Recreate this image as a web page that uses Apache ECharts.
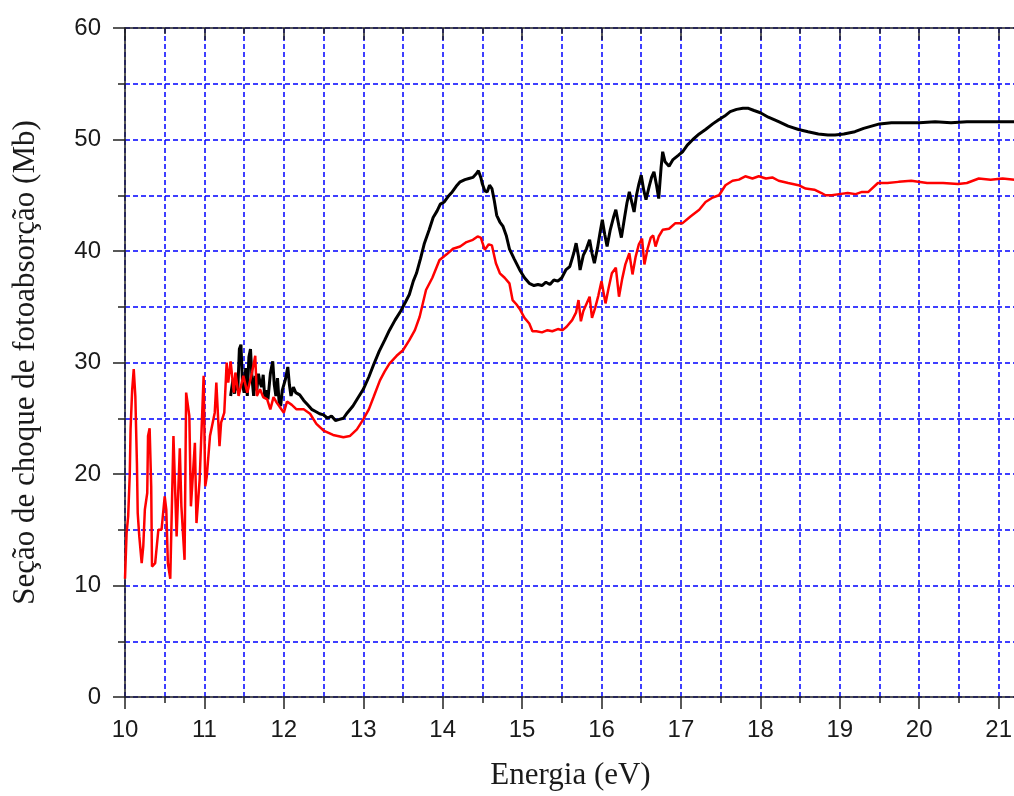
<!DOCTYPE html>
<html>
<head>
<meta charset="utf-8">
<script src="https://cdn.jsdelivr.net/npm/echarts@6/dist/echarts.min.js"></script>
<style>html,body{margin:0;padding:0;background:#fff;overflow:hidden;width:1014px;height:796px;}#c{width:1032px;height:796px;}</style>
</head>
<body>
<div id="c"></div>
<script>
// Tick labels
const xTickLabels = ['10','11','12','13','14','15','16','17','18','19','20','21'];
const yTickLabels = ['0','10','20','30','40','50','60'];

// Black series (energy in eV, cross section in Mb)
const blackE = [11.33,11.36,11.38,11.40,11.42,11.44,11.46,11.48,11.50,11.52,11.54,11.56,11.58,11.60,11.62,11.64,11.66,11.68,11.70,11.72,11.74,11.76,11.78,11.80,11.83,11.86,11.88,11.90,11.92,11.94,11.96,11.98,12.02,12.05,12.07,12.09,12.12,12.15,12.20,12.25,12.30,12.35,12.40,12.45,12.50,12.55,12.60,12.65,12.70,12.75,12.80,12.87,12.93,13.00,13.07,13.13,13.20,13.27,13.33,13.40,13.47,13.53,13.58,13.63,13.67,13.72,13.77,13.83,13.88,13.93,13.97,14.02,14.07,14.12,14.17,14.22,14.28,14.33,14.38,14.42,14.45,14.48,14.50,14.53,14.56,14.59,14.62,14.65,14.68,14.72,14.76,14.80,14.84,14.90,14.97,15.03,15.09,15.15,15.20,15.25,15.30,15.35,15.40,15.45,15.50,15.55,15.60,15.65,15.68,15.71,15.73,15.77,15.81,15.85,15.88,15.91,15.95,15.98,16.01,16.04,16.07,16.11,16.15,16.18,16.22,16.25,16.29,16.32,16.35,16.38,16.41,16.44,16.47,16.50,16.53,16.56,16.60,16.63,16.66,16.69,16.72,16.75,16.77,16.80,16.85,16.90,16.97,17.02,17.08,17.15,17.23,17.31,17.40,17.48,17.55,17.62,17.70,17.78,17.85,17.92,18.00,18.10,18.23,18.35,18.48,18.60,18.73,18.85,18.94,19.05,19.19,19.30,19.40,19.50,19.65,19.80,20.00,20.20,20.40,20.60,20.80,21.00,21.20];
const blackV = [27.0,28.5,27.2,29.0,27.5,31.2,31.6,28.0,27.3,29.5,27.0,30.5,31.2,28.5,27.0,28.8,27.5,29.0,28.2,27.8,28.9,26.8,27.5,26.7,29.0,30.1,28.0,27.0,28.6,26.5,26.1,27.5,28.5,29.6,28.0,27.0,27.8,27.3,27.1,26.6,26.2,25.8,25.6,25.4,25.3,25.0,25.2,24.8,24.9,25.0,25.5,26.1,26.8,27.6,28.7,29.8,31.0,32.0,32.9,33.8,34.6,35.4,36.1,37.3,38.0,39.3,40.7,41.9,43.0,43.6,44.2,44.4,44.9,45.3,45.8,46.2,46.4,46.5,46.6,46.9,47.2,46.6,46.0,45.4,45.3,45.9,45.6,44.5,43.2,42.6,42.2,41.4,40.2,39.3,38.3,37.6,37.1,36.9,37.0,36.9,37.2,37.0,37.4,37.3,37.6,38.3,38.6,39.8,40.7,39.5,38.3,39.6,40.2,41.0,39.8,38.9,40.3,41.6,42.8,41.5,40.4,41.9,43.0,43.7,42.2,41.2,43.0,44.3,45.3,44.4,43.5,45.0,46.0,46.8,45.5,44.6,45.8,46.6,47.1,46.0,44.7,47.5,48.9,48.0,47.6,48.2,48.6,48.9,49.5,50.0,50.5,50.9,51.4,51.8,52.1,52.5,52.7,52.8,52.8,52.6,52.4,52.0,51.6,51.2,50.9,50.7,50.5,50.4,50.4,50.5,50.7,51.0,51.2,51.4,51.5,51.5,51.5,51.6,51.5,51.6,51.6,51.6,51.6];

// Red series
const redE = [10.00,10.02,10.04,10.06,10.07,10.09,10.11,10.13,10.15,10.16,10.18,10.21,10.23,10.25,10.28,10.29,10.31,10.33,10.34,10.38,10.42,10.46,10.50,10.52,10.54,10.57,10.61,10.65,10.69,10.71,10.75,10.77,10.81,10.83,10.88,10.90,10.94,10.99,11.01,11.03,11.07,11.13,11.15,11.19,11.21,11.25,11.28,11.30,11.33,11.37,11.39,11.43,11.49,11.54,11.60,11.64,11.66,11.70,11.74,11.79,11.83,11.87,11.91,11.96,12.00,12.04,12.10,12.16,12.25,12.33,12.41,12.50,12.62,12.75,12.83,12.92,13.00,13.07,13.13,13.21,13.27,13.33,13.42,13.50,13.58,13.65,13.71,13.79,13.87,13.96,14.05,14.13,14.22,14.30,14.38,14.44,14.48,14.53,14.58,14.62,14.67,14.72,14.78,14.84,14.88,14.93,14.97,15.03,15.09,15.13,15.18,15.25,15.32,15.38,15.45,15.51,15.56,15.63,15.68,15.71,15.74,15.77,15.80,15.85,15.88,15.92,15.96,16.00,16.05,16.09,16.13,16.18,16.22,16.26,16.30,16.35,16.39,16.43,16.47,16.51,16.54,16.58,16.62,16.65,16.68,16.72,16.77,16.85,16.93,17.02,17.12,17.23,17.31,17.40,17.48,17.56,17.65,17.73,17.81,17.90,17.98,18.07,18.15,18.23,18.35,18.48,18.57,18.68,18.77,18.82,18.90,18.99,19.10,19.20,19.28,19.36,19.48,19.60,19.74,19.90,20.10,20.30,20.49,20.60,20.75,20.90,21.05,21.20];
const redV = [10.6,14.7,16.2,20.0,24.0,27.5,29.4,27.0,21.0,16.5,14.4,12.0,13.5,16.8,18.3,23.4,24.1,18.9,11.7,12.0,15.0,15.0,18.0,16.8,12.0,10.6,23.4,14.4,22.3,17.1,12.3,27.3,25.2,17.1,22.8,15.6,19.5,28.8,18.9,19.8,23.4,25.5,28.2,22.5,24.6,25.5,30.0,28.2,30.1,27.3,29.1,27.0,28.8,27.3,29.1,30.6,27.0,27.6,26.9,26.7,25.8,26.9,26.4,25.9,25.5,26.5,26.2,25.8,25.8,25.4,24.5,23.9,23.5,23.3,23.4,24.0,24.9,25.8,26.9,28.4,29.2,29.9,30.6,31.1,32.0,32.9,34.1,36.5,37.6,39.2,39.7,40.2,40.4,40.8,41.0,41.3,41.2,40.1,40.6,40.5,38.9,38.0,37.6,37.1,35.6,35.2,34.8,34.0,33.5,32.8,32.8,32.7,32.9,32.8,33.0,32.9,33.2,33.8,34.5,35.6,33.7,34.6,35.1,35.9,34.0,34.9,36.0,37.3,35.3,36.7,38.0,38.5,35.9,37.5,38.8,39.8,37.9,39.5,40.6,41.1,38.8,40.2,41.2,41.4,40.4,41.3,41.9,42.0,42.5,42.5,43.1,43.7,44.4,44.8,45.0,45.9,46.3,46.4,46.7,46.5,46.7,46.5,46.6,46.3,46.1,45.9,45.6,45.5,45.2,45.0,45.0,45.1,45.2,45.1,45.3,45.3,46.1,46.1,46.2,46.3,46.1,46.1,46.0,46.1,46.5,46.4,46.5,46.4];

const toPairs = (xs, ys) => xs.map((x, i) => [x, ys[i]]);

const gridDash = { color: '#0000ff', width: 1.5, type: [5, 3] };
const tickFont = { fontFamily: 'Liberation Sans', fontSize: 24, color: '#1a1a1a' };
const nameFont = { fontFamily: 'Liberation Serif', fontSize: 31, color: '#1a1a1a' };

// The plotted axis runs a little past the visible window edge, as in the reference
const X_MIN = 10, X_MAX = 21.42;

const chart = echarts.init(document.getElementById('c'), null, { renderer: 'canvas' });
chart.setOption({
  animation: false,
  backgroundColor: '#ffffff',
  grid: { left: 125, right: 0, top: 28, bottom: 98, containLabel: false },
  xAxis: [
    {
      type: 'value', position: 'bottom', min: X_MIN, max: X_MAX, interval: 1,
      name: 'Energia (eV)', nameLocation: 'middle', nameGap: 63,
      nameTextStyle: Object.assign({ padding: [0, 16, 0, 0] }, nameFont),
      axisLine: { show: true, onZero: false, lineStyle: { color: '#222', width: 1.5 } },
      axisTick: { show: true, inside: false, length: 12, lineStyle: { color: '#222', width: 1.5 } },
      minorTick: { show: true, splitNumber: 2, length: 6, lineStyle: { color: '#222', width: 1.5 } },
      axisLabel: Object.assign({ margin: 21, showMaxLabel: false,
        formatter: v => { const i = Math.round(v) - 10; return (Math.abs(v - Math.round(v)) < 1e-6 && xTickLabels[i] !== undefined) ? xTickLabels[i] : ''; } }, tickFont),
      splitLine: { show: true, lineStyle: gridDash },
      minorSplitLine: { show: true, lineStyle: gridDash }
    },
    {
      type: 'value', position: 'top', min: X_MIN, max: X_MAX, interval: 1,
      axisLine: { show: true, onZero: false, lineStyle: { color: '#222', width: 1.5 } },
      axisTick: { show: true, inside: true, length: 12, lineStyle: { color: '#222', width: 1.5 } },
      minorTick: { show: true, splitNumber: 2, length: 6, lineStyle: { color: '#222', width: 1.5 } },
      axisLabel: { show: false },
      splitLine: { show: false }
    }
  ],
  yAxis: [
    {
      type: 'value', min: 0, max: 60, interval: 10,
      name: 'Seção de choque de fotoabsorção (Mb)', nameLocation: 'middle', nameGap: 84,
      nameTextStyle: nameFont,
      axisLine: { show: true, onZero: false, lineStyle: { color: '#222', width: 1.5 } },
      axisTick: { show: true, inside: false, length: 12, lineStyle: { color: '#222', width: 1.5 } },
      minorTick: { show: true, splitNumber: 2, length: 7, lineStyle: { color: '#222', width: 1.5 } },
      axisLabel: Object.assign({ margin: 24,
        formatter: v => yTickLabels[Math.round(v / 10)] || '' }, tickFont),
      splitLine: { show: true, lineStyle: gridDash },
      minorSplitLine: { show: true, lineStyle: gridDash }
    }
  ],
  series: [
    {
      type: 'line', name: 'black', xAxisIndex: 0, yAxisIndex: 0,
      data: toPairs(blackE, blackV), showSymbol: false, symbol: 'none',
      lineStyle: { color: '#000000', width: 3 }, z: 3
    },
    {
      type: 'line', name: 'red', xAxisIndex: 0, yAxisIndex: 0,
      data: toPairs(redE, redV), showSymbol: false, symbol: 'none',
      lineStyle: { color: '#ff0000', width: 2.5 }, z: 4
    }
  ]
});
</script>
</body>
</html>
